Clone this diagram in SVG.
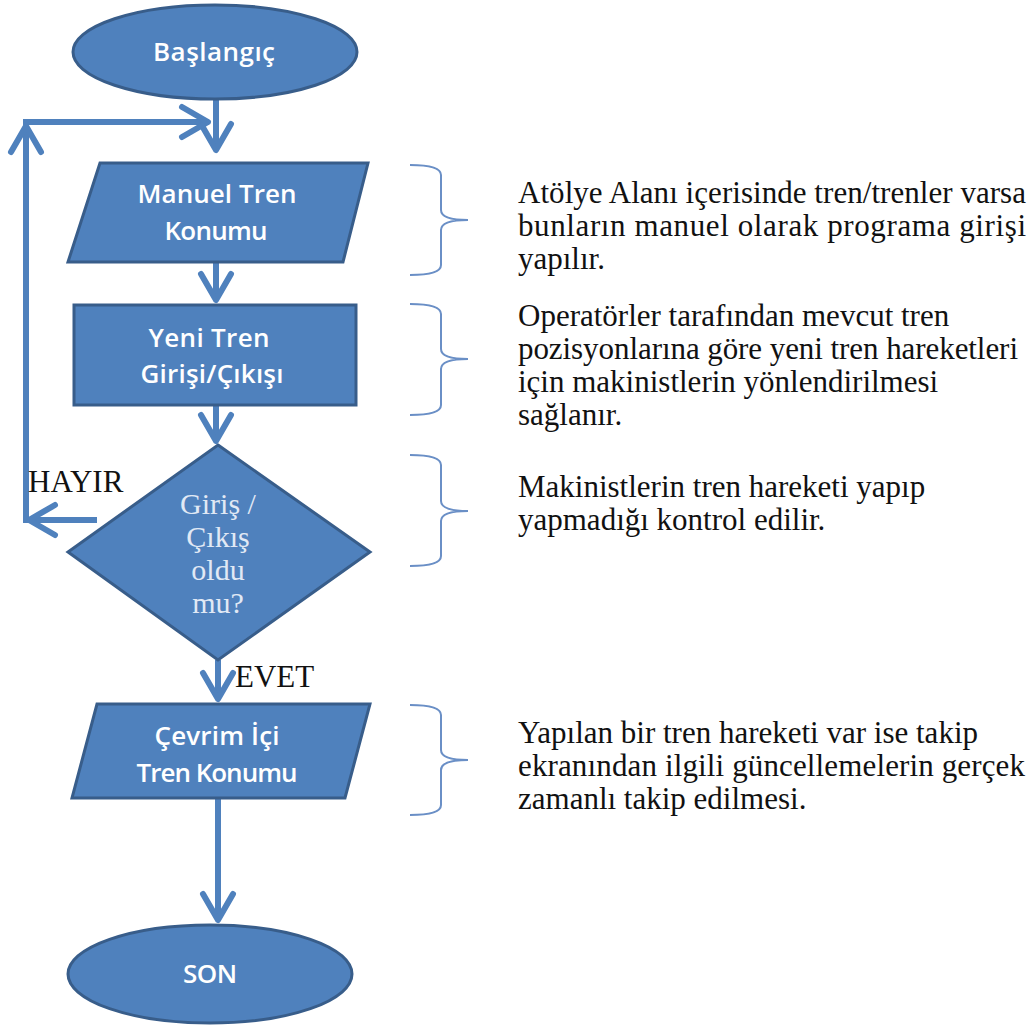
<svg xmlns="http://www.w3.org/2000/svg" width="1033" height="1030" viewBox="0 0 1033 1030">
<style>
.shape{fill:#4f81bd;stroke:#385d8a;stroke-width:3}
.lbl{font-family:"Open Sans","Noto Sans","Liberation Sans",sans-serif;font-weight:600;font-size:26px;fill:#ffffff;text-anchor:middle}
.dlbl{font-family:"Liberation Serif","DejaVu Serif",serif;font-size:30px;fill:#e1e9f5;text-anchor:middle}
.note{font-family:"Liberation Serif","DejaVu Serif",serif;font-size:31px;fill:#111111}
.conn{fill:none;stroke:#4f81bd;stroke-width:6}
.brace{fill:none;stroke:#6a8fc6;stroke-width:2}
</style>
<defs>
<marker id="arr" markerUnits="userSpaceOnUse" markerWidth="50" markerHeight="50" viewBox="-35 -25 50 50" refX="0" refY="0" orient="auto" overflow="visible">
<path d="M-26,-15 L0,0 L-26,15" fill="none" stroke="#4f81bd" stroke-width="6" stroke-linecap="round" stroke-linejoin="round"/>
</marker>
</defs>
<rect width="1033" height="1030" fill="#ffffff"/>

<g id="connectors">
<path class="conn" d="M216,100 L216,150" marker-end="url(#arr)"/>
<path class="conn" d="M216,262 L216,300" marker-end="url(#arr)"/>
<path class="conn" d="M216,405 L216,441" marker-end="url(#arr)"/>
<path class="conn" d="M218,660 L218,699" marker-end="url(#arr)"/>
<path class="conn" d="M218,798 L218,920" marker-end="url(#arr)"/>
<path class="conn" d="M97,520 L29,520" marker-end="url(#arr)"/>
<path class="conn" d="M26,523 L26,126" marker-end="url(#arr)"/>
<path class="conn" d="M23,122 L208,122" marker-end="url(#arr)"/>
</g>

<g id="start">
<ellipse class="shape" cx="215" cy="52" rx="142" ry="47"/>
<text class="lbl" x="214" y="61" textLength="122" lengthAdjust="spacing">Başlangıç</text>
</g>

<g id="manuel">
<polygon class="shape" points="100,163 368,163 343,262 68,262"/>
<text class="lbl" x="217" y="203" textLength="159" lengthAdjust="spacing">Manuel Tren</text>
<text class="lbl" x="216" y="240" textLength="103" lengthAdjust="spacing">Konumu</text>
</g>

<g id="yeni">
<rect class="shape" x="74" y="305" width="282" height="100"/>
<text class="lbl" x="209" y="347" textLength="121" lengthAdjust="spacing">Yeni Tren</text>
<text class="lbl" x="212" y="383" textLength="143" lengthAdjust="spacing">Girişi/Çıkışı</text>
</g>

<g id="decision">
<polygon class="shape" points="218,445 370,552 218,660 68,552"/>
<text class="dlbl" x="218" y="514">Giriş /</text>
<text class="dlbl" x="218" y="547">Çıkış</text>
<text class="dlbl" x="218" y="580">oldu</text>
<text class="dlbl" x="218" y="613">mu?</text>
</g>

<g id="label-hayir">
<text class="note" x="28" y="492">HAYIR</text>
</g>
<g id="label-evet">
<text class="note" x="235" y="687">EVET</text>
</g>

<g id="cevrim">
<polygon class="shape" points="97,704 370,704 345,798 72,798"/>
<text class="lbl" x="217" y="745" textLength="125" lengthAdjust="spacing">Çevrim İçi</text>
<text class="lbl" x="217" y="782" textLength="161" lengthAdjust="spacing">Tren Konumu</text>
</g>

<g id="end">
<ellipse class="shape" cx="210" cy="974" rx="142" ry="49"/>
<text class="lbl" x="210" y="983" textLength="54" lengthAdjust="spacing">SON</text>
</g>

<g id="note1">
<path class="brace" d="M410,165 Q441,165 441,175 L441,210 Q441,220 468,220 Q441,220 441,230 L441,265 Q441,275 410,275"/>
<text class="note" x="518" y="203" textLength="508" lengthAdjust="spacing">Atölye Alanı içerisinde tren/trenler varsa</text>
<text class="note" x="518" y="236" textLength="508" lengthAdjust="spacing">bunların manuel olarak programa girişi</text>
<text class="note" x="518" y="269">yapılır.</text>
</g>

<g id="note2">
<path class="brace" d="M410,304 Q441,304 441,314 L441,349 Q441,359 468,359 Q441,359 441,369 L441,405 Q441,415 410,415"/>
<text class="note" x="518" y="326">Operatörler tarafından mevcut tren</text>
<text class="note" x="518" y="359" textLength="500" lengthAdjust="spacing">pozisyonlarına göre yeni tren hareketleri</text>
<text class="note" x="518" y="392">için makinistlerin yönlendirilmesi</text>
<text class="note" x="518" y="425">sağlanır.</text>
</g>

<g id="note3">
<path class="brace" d="M410,455 Q441,455 441,465 L441,501 Q441,511 468,511 Q441,511 441,521 L441,556 Q441,566 410,566"/>
<text class="note" x="518" y="497">Makinistlerin tren hareketi yapıp</text>
<text class="note" x="518" y="530">yapmadığı kontrol edilir.</text>
</g>

<g id="note4">
<path class="brace" d="M410,705 Q441,705 441,715 L441,750 Q441,760 468,760 Q441,760 441,770 L441,805 Q441,815 410,815"/>
<text class="note" x="518" y="743">Yapılan bir tren hareketi var ise takip</text>
<text class="note" x="518" y="776" textLength="507" lengthAdjust="spacing">ekranından ilgili güncellemelerin gerçek</text>
<text class="note" x="518" y="809">zamanlı takip edilmesi.</text>
</g>
</svg>
